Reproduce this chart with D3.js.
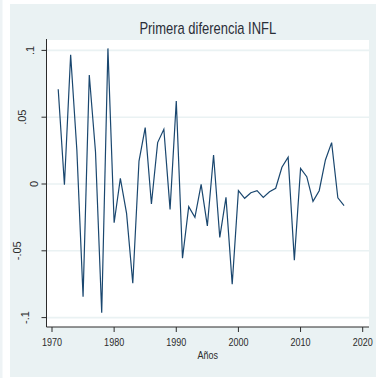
<!DOCTYPE html>
<html>
<head>
<meta charset="utf-8">
<script src="https://cdn.jsdelivr.net/npm/d3@7"></script>
<style>
  html, body { margin: 0; padding: 0; background: #ffffff; }
  svg { display: block; }
  text { font-family: "Liberation Sans", Arial, sans-serif; }
</style>
</head>
<body>
<svg id="chart" width="376" height="378"></svg>
<script>
// First difference of inflation, 1971–2017
const years = [
  1971, 1972, 1973, 1974, 1975, 1976, 1977, 1978, 1979, 1980,
  1981, 1982, 1983, 1984, 1985, 1986, 1987, 1988, 1989, 1990,
  1991, 1992, 1993, 1994, 1995, 1996, 1997, 1998, 1999, 2000,
  2001, 2002, 2003, 2004, 2005, 2006, 2007, 2008, 2009, 2010,
  2011, 2012, 2013, 2014, 2015, 2016, 2017
];
const dInfl = [
  0.0709, -0.0005, 0.0968, 0.0254, -0.0843, 0.0816, 0.0242, -0.0963, 0.1015, -0.0290,
  0.0042, -0.0220, -0.0743, 0.0172, 0.0422, -0.0150, 0.0310, 0.0410, -0.0190, 0.0621,
  -0.0556, -0.0170, -0.0250, -0.0003, -0.0314, 0.0217, -0.0400, -0.0100, -0.0750, -0.0050,
  -0.0107, -0.0065, -0.0050, -0.0100, -0.0058, -0.0032, 0.0125, 0.0200, -0.0570, 0.0117,
  0.0055, -0.0130, -0.0050, 0.0180, 0.0310, -0.0103, -0.0162
];
const xTicks = [1970, 1980, 1990, 2000, 2010, 2020];
const yTicks = [-0.1, -0.05, 0, 0.05, 0.1];
const yTickLabels = ["-.1", "-.05", "0", ".05", ".1"];
const titleText = "Primera diferencia INFL";
const xTitle = "Años";

const svg = d3.select("#chart");

// Plot region bounds
const plot = { left: 46.5, right: 369, top: 40, bottom: 327 };

const x = d3.scaleLinear().domain([1970, 2020]).range([52, 362.7]);
const y = d3.scaleLinear().domain([-0.1, 0.1]).range([317.6, 50.4]);

// Graph background
svg.append("rect").attr("x", 0).attr("y", 0).attr("width", 2.5).attr("height", 378).attr("fill", "#eef3f5");
svg.append("rect").attr("x", 10).attr("y", 4).attr("width", 366).attr("height", 373).attr("fill", "#eaf2f3");

// Plot region
svg.append("rect")
  .attr("x", plot.left).attr("y", plot.top)
  .attr("width", plot.right - plot.left).attr("height", plot.bottom - plot.top)
  .attr("fill", "#ffffff");

// Horizontal grid lines
svg.append("g").selectAll("line").data(yTicks).join("line")
  .attr("x1", plot.left).attr("x2", plot.right)
  .attr("y1", d => y(d)).attr("y2", d => y(d))
  .attr("stroke", "#eaf2f3").attr("stroke-width", 1.6);

// Series line
const line = d3.line().x((d, i) => x(years[i])).y(d => y(d));
svg.append("path")
  .datum(dInfl)
  .attr("d", line)
  .attr("fill", "none")
  .attr("stroke", "#1a476f")
  .attr("stroke-width", 1.2)
  .attr("stroke-linejoin", "miter");

// Axes
const axisColor = "#2b2b2b";
svg.append("line")
  .attr("x1", plot.left).attr("x2", plot.left)
  .attr("y1", plot.top - 1).attr("y2", plot.bottom)
  .attr("stroke", axisColor).attr("stroke-width", 1);
svg.append("line")
  .attr("x1", plot.left).attr("x2", plot.right)
  .attr("y1", plot.bottom).attr("y2", plot.bottom)
  .attr("stroke", axisColor).attr("stroke-width", 1);

// Y ticks
svg.append("g").selectAll("line").data(yTicks).join("line")
  .attr("x1", plot.left - 5).attr("x2", plot.left)
  .attr("y1", d => y(d)).attr("y2", d => y(d))
  .attr("stroke", axisColor).attr("stroke-width", 1);

// Y tick labels (vertical text)
const yLab = svg.append("g").selectAll("text").data(yTicks).join("text")
  .text((d, i) => yTickLabels[i])
  .attr("font-size", 11)
  .attr("fill", "#2b2b2b")
  .attr("text-anchor", "middle")
  .attr("dominant-baseline", "central");
yLab.each(function(d) {
  const w = this.getComputedTextLength();
  const cx = 42 - 1.3 * w;
  d3.select(this).attr("transform", `translate(${cx},${y(d)}) rotate(-90)`);
});

// X ticks
svg.append("g").selectAll("line").data(xTicks).join("line")
  .attr("x1", d => x(d)).attr("x2", d => x(d))
  .attr("y1", plot.bottom).attr("y2", plot.bottom + 5)
  .attr("stroke", axisColor).attr("stroke-width", 1);

svg.append("g").selectAll("text").data(xTicks).join("text")
  .text(d => d)
  .attr("font-size", 11)
  .attr("fill", "#2b2b2b")
  .attr("text-anchor", "middle")
  .attr("transform", d => `translate(${x(d)},346) scale(0.82,1)`);

// X axis title
svg.append("text")
  .text(xTitle)
  .attr("font-size", 11)
  .attr("fill", "#2b2b2b")
  .attr("text-anchor", "middle")
  .attr("transform", `translate(${(plot.left + plot.right) / 2},358.5) scale(0.82,1)`);

// Title
svg.append("text")
  .text(titleText)
  .attr("font-size", 16)
  .attr("fill", "#2a2e38")
  .attr("text-anchor", "middle")
  .attr("transform", `translate(${(plot.left + plot.right) / 2},33.5) scale(0.81,1)`);
</script>
</body>
</html>
